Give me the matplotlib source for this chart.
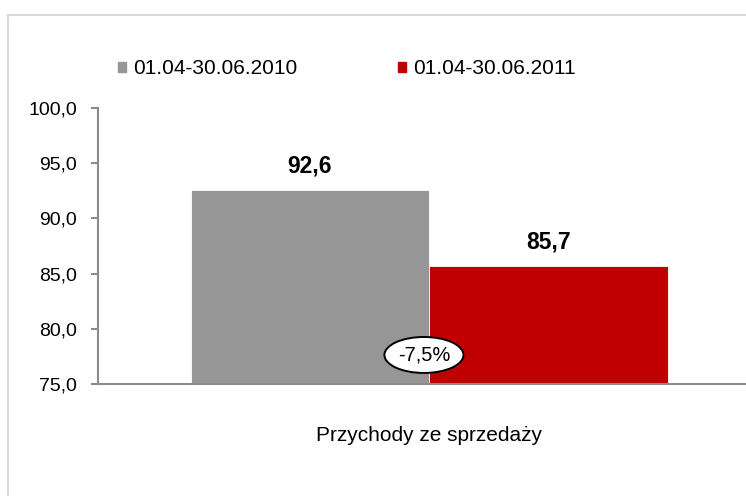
import matplotlib.pyplot as plt
from matplotlib.patches import Ellipse, Rectangle, Patch

plt.rcParams['font.family'] = ['Liberation Sans', 'DejaVu Sans']

categories = ["Przychody ze sprzedaży"]
series = ["01.04-30.06.2010", "01.04-30.06.2011"]
values_2010 = [92.6]
values_2011 = [85.7]
change_label = "-7,5%"
yticks = [75, 80, 85, 90, 95, 100]

colors = ["#969696", "#C00000"]

fig = plt.figure(figsize=(7.46, 4.96), dpi=100)
ax = fig.add_axes([98 / 746, 1 - 384 / 496, 648 / 746, 276 / 496])

# light frame around the whole chart
fig.patches.append(Rectangle((8 / 746, -0.05), 1.0, 1 - 15 / 496 + 0.05,
                             transform=fig.transFigure, fill=False,
                             edgecolor="#d9d9d9", linewidth=1.5))

w = 0.368
x = list(range(len(categories)))
ax.bar([i - w / 2 for i in x], [v - 75 for v in values_2010], w, bottom=75,
       color=colors[0], edgecolor="white", linewidth=0.6)
ax.bar([i + w / 2 for i in x], [v - 75 for v in values_2011], w, bottom=75,
       color=colors[1], edgecolor="white", linewidth=0.6)

for i in x:
    ax.text(i - w / 2, values_2010[i] + 1.1, f"{values_2010[i]:.1f}".replace(".", ","),
            ha="center", va="bottom", fontsize=16.5, fontweight="bold")
    ax.text(i + w / 2, values_2011[i] + 1.1, f"{values_2011[i]:.1f}".replace(".", ","),
            ha="center", va="bottom", fontsize=16.5, fontweight="bold")
    ax.add_patch(Ellipse((i - 0.008, 77.63), 0.122, 3.26, facecolor="white",
                         edgecolor="black", linewidth=1.4, zorder=5))
    ax.text(i - 0.008, 77.63, change_label, ha="center", va="center",
            fontsize=14.5, zorder=6)

ax.set_xlim(-0.511, 0.489)
ax.set_ylim(75, 100)
ax.set_yticks(yticks)
ax.set_yticklabels([f"{t:.1f}".replace(".", ",") for t in yticks], fontsize=14)
ax.set_xticks(x)
ax.set_xticklabels(categories, fontsize=15)
ax.tick_params(axis="x", length=0, pad=30)
ax.tick_params(axis="y", length=5, color="#8c8c8c", width=1.5, pad=10)

for s in ["top", "right"]:
    ax.spines[s].set_visible(False)
for s in ["left", "bottom"]:
    ax.spines[s].set_color("#8c8c8c")
    ax.spines[s].set_linewidth(1.5)

handles = [Patch(color=c) for c in colors]
fig.legend(handles, series, loc="center left", bbox_to_anchor=(99 / 746, 1 - 69 / 496),
           ncol=2, frameon=False, fontsize=15, handlelength=0.4, handleheight=0.4,
           handletextpad=0.35, columnspacing=4.8)

fig.savefig("out.png", dpi=100)
